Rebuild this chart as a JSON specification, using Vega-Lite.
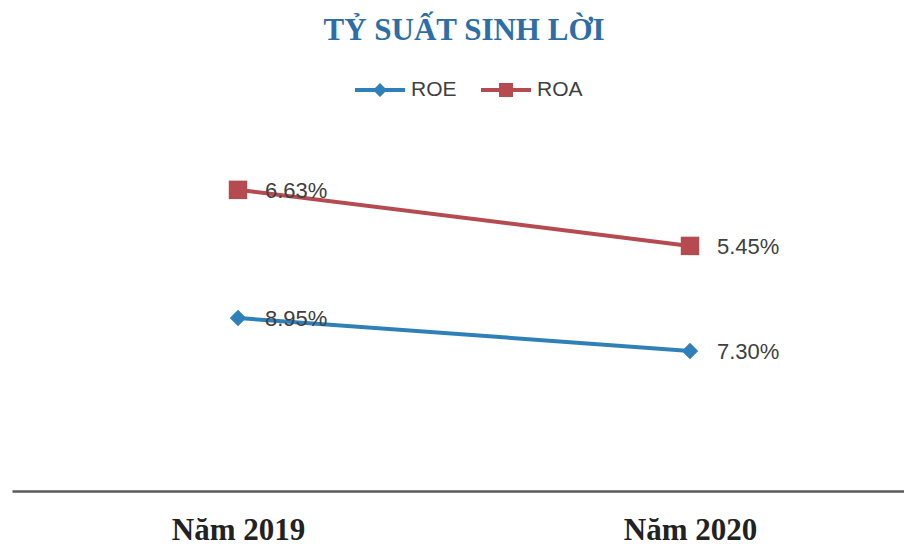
{
  "$schema": "https://vega.github.io/schema/vega-lite/v6.json",
  "width": 904,
  "height": 361,
  "autosize": "none",
  "padding": {"left": 12, "top": 130, "right": 0, "bottom": 54},
  "background": "white",
  "title": {"text": "TỶ SUẤT SINH LỜI", "font": "Liberation Serif", "fontSize": 31, "fontWeight": "bold", "color": "#2e6ea6", "anchor": "middle", "frame": "group", "offset": 18},
  "config": {"view": {"stroke": null}},
  "data": {"values": [
    {"year": "Năm 2019", "series": "ROE", "value": 0.0895},
    {"year": "Năm 2020", "series": "ROE", "value": 0.0730},
    {"year": "Năm 2019", "series": "ROA", "value": 0.0663},
    {"year": "Năm 2020", "series": "ROA", "value": 0.0545}
  ]},
  "encoding": {
    "x": {"field": "year", "type": "ordinal", "sort": null, "scale": {"type": "point", "padding": 0.5},
      "axis": {"title": null, "labelAngle": 0, "labelFont": "Liberation Serif", "labelFontSize": 31, "labelFontWeight": "bold", "labelColor": "#222222", "labelPadding": 24, "ticks": false, "grid": false, "domainColor": "#5a5a5a", "domainWidth": 2.5, "domainOpacity": 1}},
    "color": {"field": "series", "type": "nominal", "sort": null,
      "scale": {"domain": ["ROE", "ROA"], "range": ["#2f80b8", "#b54a50"]},
      "legend": {"orient": "none", "legendX": 343, "legendY": -65, "direction": "horizontal", "title": null, "padding": 0,
        "labelFont": "Liberation Sans", "labelFontSize": 21, "labelColor": "#404040", "symbolSize": 2500, "symbolStrokeWidth": 0, "columnPadding": 24, "labelOffset": 6,
        "encode": {"symbols": {"update": {
          "shape": {"signal": "datum.value === 'ROE' ? 'M-1,-0.08H-0.2L0,-0.28L0.2,-0.08H1V0.08H0.2L0,0.28L-0.2,0.08H-1Z' : 'M-1,-0.08H-0.28V-0.28H0.28V-0.08H1V0.08H0.28V0.28H-0.28V0.08H-1Z'"},
          "fill": {"signal": "datum.value === 'ROE' ? '#2f80b8' : '#b54a50'"},
          "fillOpacity": {"value": 1},
          "strokeWidth": {"value": 0}
        }}}}}
  },
  "layer": [
    {
      "transform": [{"filter": "datum.series === 'ROE'"}],
      "encoding": {"y": {"field": "value", "type": "quantitative", "scale": {"domain": [0.003, 0.1835], "zero": false, "nice": false}, "axis": null}},
      "layer": [
        {"mark": {"type": "line", "strokeWidth": 4}},
        {"mark": {"type": "point", "shape": "diamond", "filled": true, "size": 270, "opacity": 1}},
        {"mark": {"type": "text", "align": "left", "baseline": "middle", "dx": 27, "dy": 1, "font": "Liberation Sans", "fontSize": 22, "color": "#404040"},
          "encoding": {"text": {"field": "value", "type": "quantitative", "format": ".2%"}, "color": {"value": "#404040"}}}
      ]
    },
    {
      "transform": [{"filter": "datum.series === 'ROA'"}],
      "encoding": {"y": {"field": "value", "type": "quantitative", "scale": {"domain": [0.0029, 0.0789], "zero": false, "nice": false}, "axis": null}},
      "layer": [
        {"mark": {"type": "line", "strokeWidth": 4}},
        {"mark": {"type": "point", "shape": "square", "filled": true, "size": 340, "opacity": 1}},
        {"mark": {"type": "text", "align": "left", "baseline": "middle", "dx": 27, "dy": 1, "font": "Liberation Sans", "fontSize": 22, "color": "#404040"},
          "encoding": {"text": {"field": "value", "type": "quantitative", "format": ".2%"}, "color": {"value": "#404040"}}}
      ]
    }
  ],
  "resolve": {"scale": {"y": "independent"}}
}
